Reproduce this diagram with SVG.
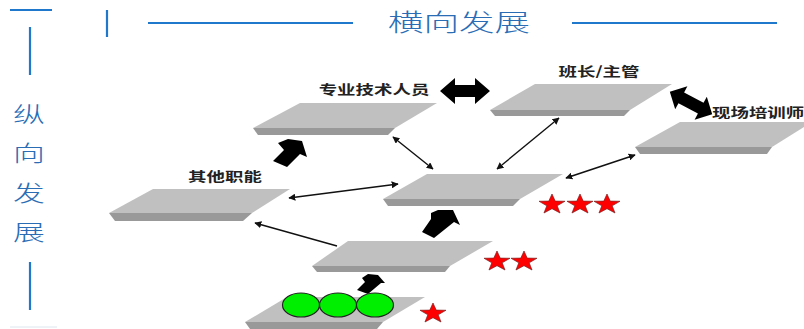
<svg xmlns="http://www.w3.org/2000/svg" width="804" height="329" viewBox="0 0 804 329">
<defs>
<style>
.blue{stroke:#1f78cc;stroke-width:2.2;fill:none}
.top{fill:#c0c0c0}
.band{fill:#999999}
.thin{stroke:#111;stroke-width:1.4;fill:none}
.blk{fill:#000}
.lbl{font-family:"Noto Sans CJK SC","Noto Sans CJK SC",sans-serif;font-size:13px;font-weight:bold;fill:#222;text-anchor:middle}
.ttl{font-family:"Noto Sans CJK SC",sans-serif;font-size:24px;font-weight:300;fill:#2a6db5;text-anchor:middle}
.ball{fill:#00ef00;stroke:#222;stroke-width:1.2}
.star{fill:#ff0000;stroke:#7a2020;stroke-width:0.6}
</style>
<marker id="ah" viewBox="0 0 10 10" refX="9" refY="5" markerWidth="7" markerHeight="7" orient="auto-start-reverse" markerUnits="userSpaceOnUse">
<path d="M0,0 L10,5 L0,10 Z" fill="#111"/>
</marker>
<path id="st" d="M0,-10.5 L2.47,-3.4 L9.99,-3.24 L3.99,1.3 L6.17,8.49 L0,4.2 L-6.17,8.49 L-3.99,1.3 L-9.99,-3.24 L-2.47,-3.4 Z"/>
</defs>
<rect width="804" height="329" fill="#ffffff"/>

<g id="frame">
<line class="blue" x1="10" y1="10" x2="52" y2="10"/>
<line class="blue" x1="30" y1="27" x2="30" y2="75"/>
<line class="blue" x1="30" y1="262" x2="30" y2="310"/>
<line x1="10" y1="327" x2="57" y2="327" stroke="#dde6f0" stroke-width="1"/>
<line class="blue" x1="107" y1="10" x2="107" y2="37"/>
<line class="blue" x1="148" y1="23" x2="353" y2="23"/>
<line class="blue" x1="572" y1="23" x2="777" y2="23"/>
<text class="ttl" transform="translate(459,31) scale(1.48,1)">横向发展</text>
<g class="ttl" style="font-size:22px">
<text transform="translate(29,122) scale(1.45,1)">纵</text>
<text transform="translate(29,161) scale(1.45,1)">向</text>
<text transform="translate(29,201) scale(1.45,1)">发</text>
<text transform="translate(29,240) scale(1.45,1)">展</text>
</g>
</g>

<g id="node-other">
<polygon class="top" points="153,189 290,189 252,213 109,213"/>
<polygon class="band" points="109,213 252,213 243,221 115,221"/>
<text class="lbl" transform="translate(225,181) scale(1.42,1)">其他职能</text>
</g>
<g id="node-tech">
<polygon class="top" points="300,103 437,103 395,128 253,128"/>
<polygon class="band" points="253,128 395,128 388,135 258,135"/>
<text class="lbl" transform="translate(374,94) scale(1.42,1)">专业技术人员</text>
</g>
<g id="node-leader">
<polygon class="top" points="535,84 672,84 630,110 490,110"/>
<polygon class="band" points="490,110 630,110 624,116 495,116"/>
<text class="lbl" transform="translate(599,76) scale(1.42,1)">班长/主管</text>
</g>
<g id="node-trainer">
<polygon class="top" points="680,122 812,122 772,147 635,147"/>
<polygon class="band" points="635,147 772,147 767,154 640,154"/>
<text class="lbl" style="text-anchor:start" transform="translate(712,117) scale(1.42,1)">现场培训师</text>
</g>
<g id="node-level3">
<polygon class="top" points="427,174 563,174 520,199 383,199"/>
<polygon class="band" points="383,199 520,199 513,206 388,206"/>
</g>
<g id="node-level2">
<polygon class="top" points="348,241 493,241 450,266 312,266"/>
<polygon class="band" points="312,266 450,266 445,272 317,272"/>
</g>
<g id="node-level1">
<polygon class="top" points="287,297 425,297 383,322 245,322"/>
<polygon class="band" points="245,322 383,322 377,329 250,329"/>
</g>

<g id="connectors">
<line class="thin" x1="393" y1="137" x2="433" y2="169" marker-start="url(#ah)" marker-end="url(#ah)"/>
<line class="thin" x1="497" y1="169" x2="559" y2="118" marker-start="url(#ah)" marker-end="url(#ah)"/>
<line class="thin" x1="566" y1="178" x2="635" y2="155" marker-start="url(#ah)" marker-end="url(#ah)"/>
<line class="thin" x1="289" y1="198" x2="398" y2="184" marker-start="url(#ah)" marker-end="url(#ah)"/>
<line class="thin" x1="337" y1="246" x2="255" y2="223" marker-end="url(#ah)"/>
<polygon class="blk" points="273,161 284,150 278,143 288,139 302,141 307,157 300,154 287,167"/>
<polygon class="blk" points="422,232 431,219 431,213 438,210 453,210 460,225 454,222 434,238"/>
<polygon class="blk" points="357,290 365,282 362,278 368,274 378,275 385,283 381,283 368,294"/>
<polygon class="blk" points="440,91 455,78 455,85 475,85 475,78 490,91 475,104 475,97 455,97 455,104"/>
<polygon class="blk" transform="translate(691,103) rotate(28)" points="-24,0 -11,-13 -11,-6 11,-6 11,-13 24,0 11,13 11,6 -11,6 -11,13"/>
</g>

<g id="balls">
<ellipse class="ball" cx="301" cy="305" rx="18.5" ry="12"/>
<ellipse class="ball" cx="338" cy="305" rx="18.5" ry="12"/>
<ellipse class="ball" cx="375" cy="305" rx="18.5" ry="12"/>
</g>

<g id="stars">
<use href="#st" class="star" transform="translate(552,204.5) scale(1.3,1)"/>
<use href="#st" class="star" transform="translate(580,204.5) scale(1.3,1)"/>
<use href="#st" class="star" transform="translate(607,204.5) scale(1.3,1)"/>
<use href="#st" class="star" transform="translate(497,261.5) scale(1.3,1)"/>
<use href="#st" class="star" transform="translate(524,261.5) scale(1.3,1)"/>
<use href="#st" class="star" transform="translate(433,313.5) scale(1.3,1)"/>
</g>
</svg>
